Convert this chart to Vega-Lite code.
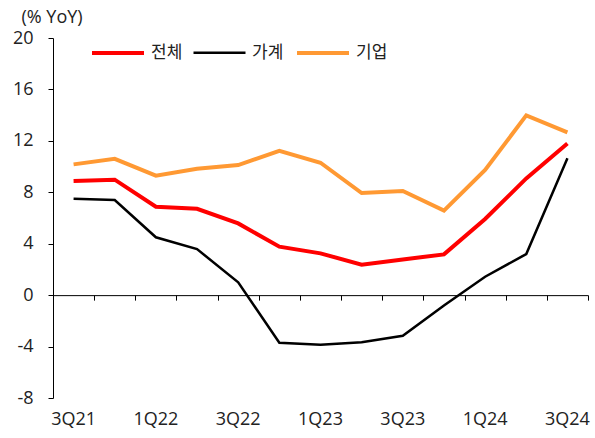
{
  "$schema": "https://vega.github.io/schema/vega-lite/v6.json",
  "width": 535,
  "height": 360,
  "autosize": {"type": "none"},
  "padding": {"left": 53, "top": 38, "right": 7, "bottom": 40},
  "background": "white",
  "config": {"view": {"stroke": null}, "font": "Open Sans"},
  "data": {"values": [
    {"q": "3Q21", "s": "전체", "v": 8.87}, {"q": "4Q21", "s": "전체", "v": 8.98}, {"q": "1Q22", "s": "전체", "v": 6.88}, {"q": "2Q22", "s": "전체", "v": 6.72}, {"q": "3Q22", "s": "전체", "v": 5.58}, {"q": "4Q22", "s": "전체", "v": 3.77}, {"q": "1Q23", "s": "전체", "v": 3.25}, {"q": "2Q23", "s": "전체", "v": 2.37}, {"q": "3Q23", "s": "전체", "v": 2.78}, {"q": "4Q23", "s": "전체", "v": 3.17}, {"q": "1Q24", "s": "전체", "v": 5.92}, {"q": "2Q24", "s": "전체", "v": 9.08}, {"q": "3Q24", "s": "전체", "v": 11.8},
    {"q": "3Q21", "s": "가계", "v": 7.5}, {"q": "4Q21", "s": "가계", "v": 7.4}, {"q": "1Q22", "s": "가계", "v": 4.5}, {"q": "2Q22", "s": "가계", "v": 3.58}, {"q": "3Q22", "s": "가계", "v": 1.0}, {"q": "4Q22", "s": "가계", "v": -3.7}, {"q": "1Q23", "s": "가계", "v": -3.85}, {"q": "2Q23", "s": "가계", "v": -3.67}, {"q": "3Q23", "s": "가계", "v": -3.16}, {"q": "4Q23", "s": "가계", "v": -0.8}, {"q": "1Q24", "s": "가계", "v": 1.43}, {"q": "2Q24", "s": "가계", "v": 3.2}, {"q": "3Q24", "s": "가계", "v": 10.64},
    {"q": "3Q21", "s": "기업", "v": 10.17}, {"q": "4Q21", "s": "기업", "v": 10.6}, {"q": "1Q22", "s": "기업", "v": 9.29}, {"q": "2Q22", "s": "기업", "v": 9.83}, {"q": "3Q22", "s": "기업", "v": 10.12}, {"q": "4Q22", "s": "기업", "v": 11.23}, {"q": "1Q23", "s": "기업", "v": 10.3}, {"q": "2Q23", "s": "기업", "v": 7.94}, {"q": "3Q23", "s": "기업", "v": 8.1}, {"q": "4Q23", "s": "기업", "v": 6.57}, {"q": "1Q24", "s": "기업", "v": 9.73}, {"q": "2Q24", "s": "기업", "v": 13.98}, {"q": "3Q24", "s": "기업", "v": 12.66}
  ]},
  "resolve": {"axis": {"x": "independent"}},
  "layer": [
    {
      "mark": {"type": "line", "opacity": 0},
      "encoding": {
        "x": {"field": "q", "type": "ordinal", "sort": null, "bandPosition": 0.5,
          "scale": {"type": "band", "paddingInner": 0, "paddingOuter": 0},
          "axis": {"orient": "bottom", "offset": -102.86, "labels": false, "title": null, "ticks": true, "tickBand": "extent", "tickSize": 5, "tickColor": "black", "domain": true, "domainColor": "black", "domainWidth": 1, "grid": false}},
        "y": {"field": "v", "type": "quantitative", "scale": {"domain": [-8, 20], "nice": false},
          "axis": {"values": [-8, -4, 0, 4, 8, 12, 16, 20], "labelExpr": "'' + datum.value", "grid": false, "domainColor": "black", "tickColor": "black", "tickSize": 5, "labelFontSize": 18, "labelColor": "#222", "labelPadding": 15,
            "title": "(% YoY)", "titleAngle": 0, "titleAlign": "left", "titleBaseline": "middle", "titleX": -32, "titleY": -21, "titleFontSize": 18, "titleFontWeight": "normal", "titleColor": "#222"}}
      }
    },
    {
      "mark": {"type": "line"},
      "encoding": {
        "x": {"field": "q", "type": "ordinal", "sort": null, "bandPosition": 0.5,
          "scale": {"type": "band", "paddingInner": 0, "paddingOuter": 0},
          "axis": {"orient": "bottom", "title": null, "ticks": false, "domain": false, "grid": false, "labelAngle": 0, "labelFontSize": 18, "labelColor": "#222", "labelPadding": 12,
            "labelExpr": "indexof(['3Q21','1Q22','3Q22','1Q23','3Q23','1Q24','3Q24'], datum.value) >= 0 ? datum.value : ''"}},
        "y": {"field": "v", "type": "quantitative", "scale": {"domain": [-8, 20], "nice": false},
          "axis": {"values": [-8, -4, 0, 4, 8, 12, 16, 20], "labelExpr": "'' + datum.value", "grid": false, "domainColor": "black", "tickColor": "black", "tickSize": 5, "labelFontSize": 18, "labelColor": "#222", "labelPadding": 15,
            "title": "(% YoY)", "titleAngle": 0, "titleAlign": "left", "titleBaseline": "middle", "titleX": -32, "titleY": -21, "titleFontSize": 18, "titleFontWeight": "normal", "titleColor": "#222"}},
        "color": {"field": "s", "type": "nominal",
          "scale": {"domain": ["전체", "가계", "기업"], "range": ["#FF0000", "#000000", "#FF9933"]},
          "legend": {"orient": "none", "legendX": 37, "legendY": -13, "direction": "horizontal", "title": null, "symbolType": "stroke", "symbolSize": 2704, "symbolStrokeWidth": 4, "labelFont": "Noto Sans CJK KR", "labelFontSize": 17, "labelColor": "#222", "labelOffset": 5, "columnPadding": 5}},
        "strokeWidth": {"field": "s", "type": "nominal",
          "scale": {"type": "ordinal", "domain": ["전체", "가계", "기업"], "range": [4, 2.5, 4]}}
      }
    }
  ]
}
